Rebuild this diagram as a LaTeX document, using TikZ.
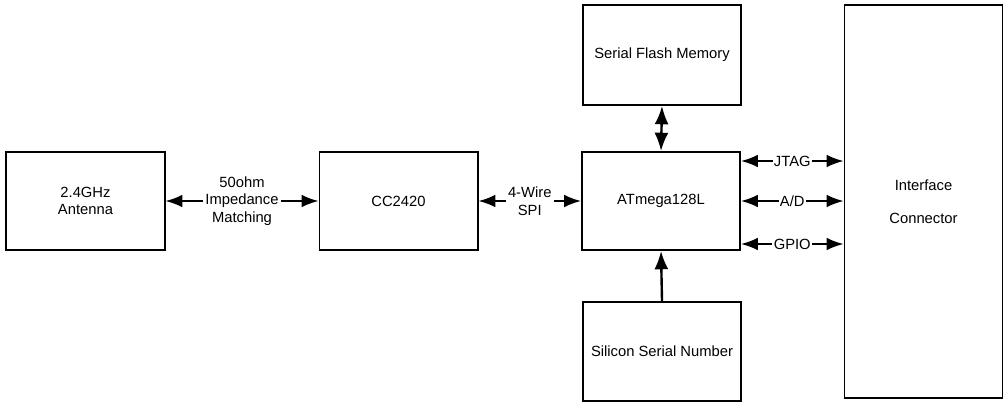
\documentclass[tikz,border=0pt]{standalone}
\usepackage{fontspec}
\setmainfont{Liberation Sans}
\usetikzlibrary{arrows.meta,calc}
\tikzset{
 blk box/.style={draw=black,line width=1.4pt,inner sep=2pt,align=center,
                 minimum width=3.95cm,minimum height=2.45cm,
                 font=\fontsize{10.5}{12.5}\selectfont},
 blk link/.style={line width=1.2pt,
                  {Latex[length=12pt,width=9pt]}-{Latex[length=12pt,width=9pt]}},
 blk bus/.style={line width=1.7pt,
                 {Latex[length=13pt,width=10pt]}-{Latex[length=13pt,width=10pt]}},
 blk feed/.style={line width=1.7pt,-{Latex[length=13pt,width=10pt]}},
 blk label/.style={fill=white,inner sep=1.5pt,align=center,
                   font=\fontsize{10.5}{12.5}\selectfont}
}

\begin{document}
\begin{tikzpicture}[x=0.025cm,y=-0.025cm]
 \useasboundingbox (0,0) rectangle (1003,403);

 \node[blk box] (ant)   at (85.5,201)  {2.4GHz\\Antenna};
 \node[blk box] (cc)    at (398.5,201) {CC2420};
 \node[blk box] (mcu)   at (661,201)   {ATmega128L};
 \node[blk box,minimum height=2.5cm]   (flash) at (662,55)    {Serial Flash Memory};
 \node[blk box,minimum height=2.475cm] (ssn)   at (662,351.5) {Silicon Serial Number};
 \node[blk box,minimum height=9.825cm] (conn)  at (923.5,201.5)
   {Interface\\[11pt]Connector};

 \draw[blk link] (ant.east) -- (cc.west)
   node[midway,blk label] {50ohm\\Impedance\\Matching};
 \draw[blk link] (cc.east) -- (mcu.west)
   node[midway,blk label] {4-Wire\\SPI};

 \draw[blk bus]  (flash.south) -- (mcu.north);
 \draw[blk feed] (ssn.north) -- (mcu.south);

 % side signals to the connector
 \foreach \sig/\f [count=\i] in {JTAG/0.1,A\slash D/0.5,GPIO/0.93} {
   \coordinate (sig\i) at ($(mcu.north east)!\f!(mcu.south east)$);
   \draw[blk link] (sig\i) -- (sig\i -| conn.west)
     node[midway,blk label,inner sep=1pt] {\sig};
 }
\end{tikzpicture}
\end{document}
